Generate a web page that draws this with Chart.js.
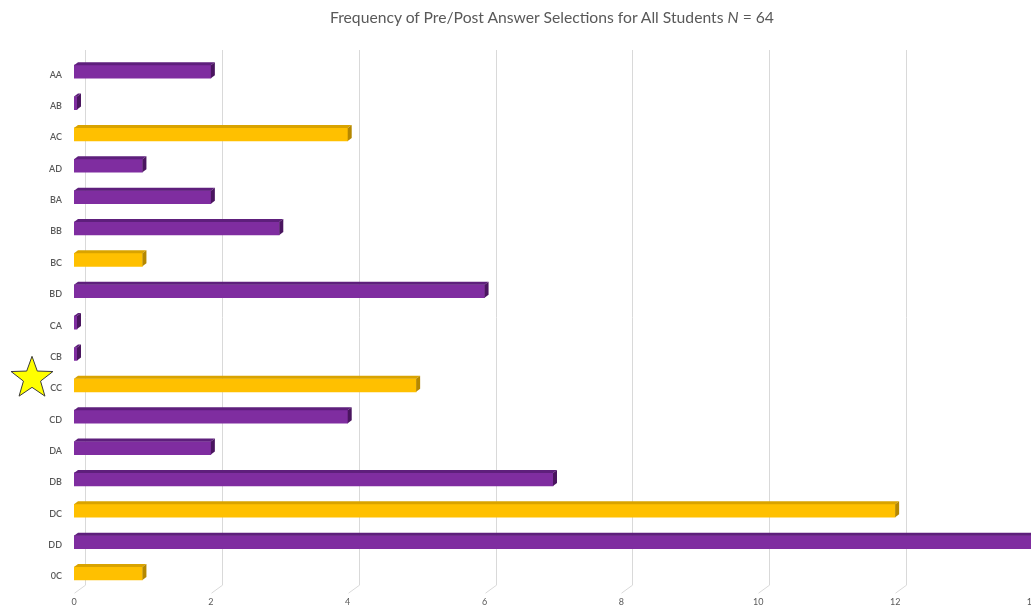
<!DOCTYPE html>
<html>
<head>
<meta charset="utf-8">
<script src="https://cdn.jsdelivr.net/npm/chart.js@4/dist/chart.umd.min.js"></script>
<style>
  html, body { margin: 0; padding: 0; background: #fff; overflow: hidden; }
  #wrap { position: relative; width: 1031px; height: 614px; overflow: hidden; }
  #title { position: absolute; left: 0; top: 8px; width: 1104px; text-align: center;
           font: 15.7px Lato, "Open Sans", sans-serif; color: #595959; }
  canvas { position: absolute; left: 0; top: 0; }
</style>
</head>
<body>
<div id="wrap">
  <canvas id="freqChart" width="1045" height="614"></canvas>
  <div id="title">Frequency of Pre/Post Answer Selections for All Students <i>N</i> = 64</div>
</div>
<script>
// answer pair categories (pre answer + post answer)
const categories = ["AA", "AB", "AC", "AD", "BA", "BB", "BC", "BD", "CA", "CB", "CC", "CD", "DA", "DB", "DC", "DD", "0C"];
const counts = [2, 0, 4, 1, 2, 3, 1, 6, 0, 0, 5, 4, 2, 7, 12, 14, 1];
const xTicks = [0, 2, 4, 6, 8, 10, 12, 14];
const starCategory = "CC";

// correct post answer (C) shown in gold, the rest purple
const isCorrect = categories.map(c => c.endsWith("C"));
const faceColors = isCorrect.map(ok => ok ? "#FFC000" : "#7F2DA0");
const topColors = isCorrect.map(ok => ok ? "#D9A300" : "#5E1F7C");
const capColors = isCorrect.map(ok => ok ? "#B58800" : "#4A155F");

const DX = 4, DY = 3;

// back-wall gridlines, offset like the 3D chart
const backGrid = {
  id: "backGrid",
  beforeDatasetsDraw(chart) {
    const { ctx, chartArea, scales } = chart;
    ctx.save();
    ctx.strokeStyle = "#D9D9D9";
    ctx.lineWidth = 1;
    xTicks.forEach(v => {
      const px = Math.round(scales.x.getPixelForValue(v)) + 0.5;
      ctx.beginPath();
      ctx.moveTo(px + 11, 50);
      ctx.lineTo(px + 11, chartArea.bottom - 4);
      ctx.lineTo(px, chartArea.bottom + 4);
      ctx.stroke();
    });
    ctx.restore();
  }
};

// top face + end cap for each bar
const bar3d = {
  id: "bar3d",
  afterDatasetsDraw(chart) {
    const ctx = chart.ctx;
    const meta = chart.getDatasetMeta(0);
    ctx.save();
    meta.data.forEach((bar, i) => {
      const { x, y, base, height } = bar.getProps(["x", "y", "base", "height"], true);
      const top = y - height / 2, bottom = y + height / 2;
      ctx.fillStyle = topColors[i];
      ctx.beginPath();
      ctx.moveTo(base, top);
      ctx.lineTo(base + DX, top - DY);
      ctx.lineTo(x + DX, top - DY);
      ctx.lineTo(x, top);
      ctx.closePath();
      ctx.fill();
      ctx.fillStyle = capColors[i];
      ctx.beginPath();
      ctx.moveTo(x, top);
      ctx.lineTo(x + DX, top - DY);
      ctx.lineTo(x + DX, bottom - DY);
      ctx.lineTo(x, bottom);
      ctx.closePath();
      ctx.fill();
    });
    ctx.restore();
  }
};

// yellow star next to the CC row
const starMark = {
  id: "starMark",
  afterDraw(chart) {
    const ctx = chart.ctx;
    const cy = chart.scales.y.getPixelForValue(categories.indexOf(starCategory)) - 7;
    const cx = 32, R = 22, r = 9;
    ctx.save();
    ctx.beginPath();
    for (let k = 0; k < 10; k++) {
      const rad = k % 2 === 0 ? R : r;
      const a = -Math.PI / 2 + k * Math.PI / 5;
      const px = cx + rad * Math.cos(a), py = cy + rad * Math.sin(a);
      if (k === 0) ctx.moveTo(px, py); else ctx.lineTo(px, py);
    }
    ctx.closePath();
    ctx.fillStyle = "#FFFF00";
    ctx.fill();
    ctx.strokeStyle = "#3A3A3A";
    ctx.lineWidth = 1;
    ctx.stroke();
    ctx.restore();
  }
};

new Chart(document.getElementById("freqChart"), {
  type: "bar",
  data: {
    labels: categories,
    datasets: [{
      data: counts,
      backgroundColor: faceColors,
      borderWidth: 0,
      barThickness: 13,
      minBarLength: 3
    }]
  },
  options: {
    indexAxis: "y",
    responsive: false,
    animation: false,
    layout: { padding: { top: 56, right: 13, left: 0, bottom: 0 } },
    plugins: { legend: { display: false }, tooltip: { enabled: false }, title: { display: false } },
    scales: {
      x: {
        min: 0,
        max: 14,
        afterBuildTicks: axis => { axis.ticks = xTicks.map(v => ({ value: v })); },
        afterFit: axis => { axis.paddingLeft = 0; axis.paddingRight = 0; },
        grid: { display: false, drawTicks: false },
        border: { display: false },
        ticks: { color: "#595959", font: { family: "Lato", size: 9 }, padding: 7 }
      },
      y: {
        afterFit: axis => { axis.width = 74; },
        grid: { display: false, drawTicks: false },
        border: { display: false },
        ticks: { color: "#595959", font: { family: "Lato", size: 9, weight: "600" }, padding: 12, labelOffset: 3 }
      }
    }
  },
  plugins: [backGrid, bar3d, starMark]
});
</script>
</body>
</html>
